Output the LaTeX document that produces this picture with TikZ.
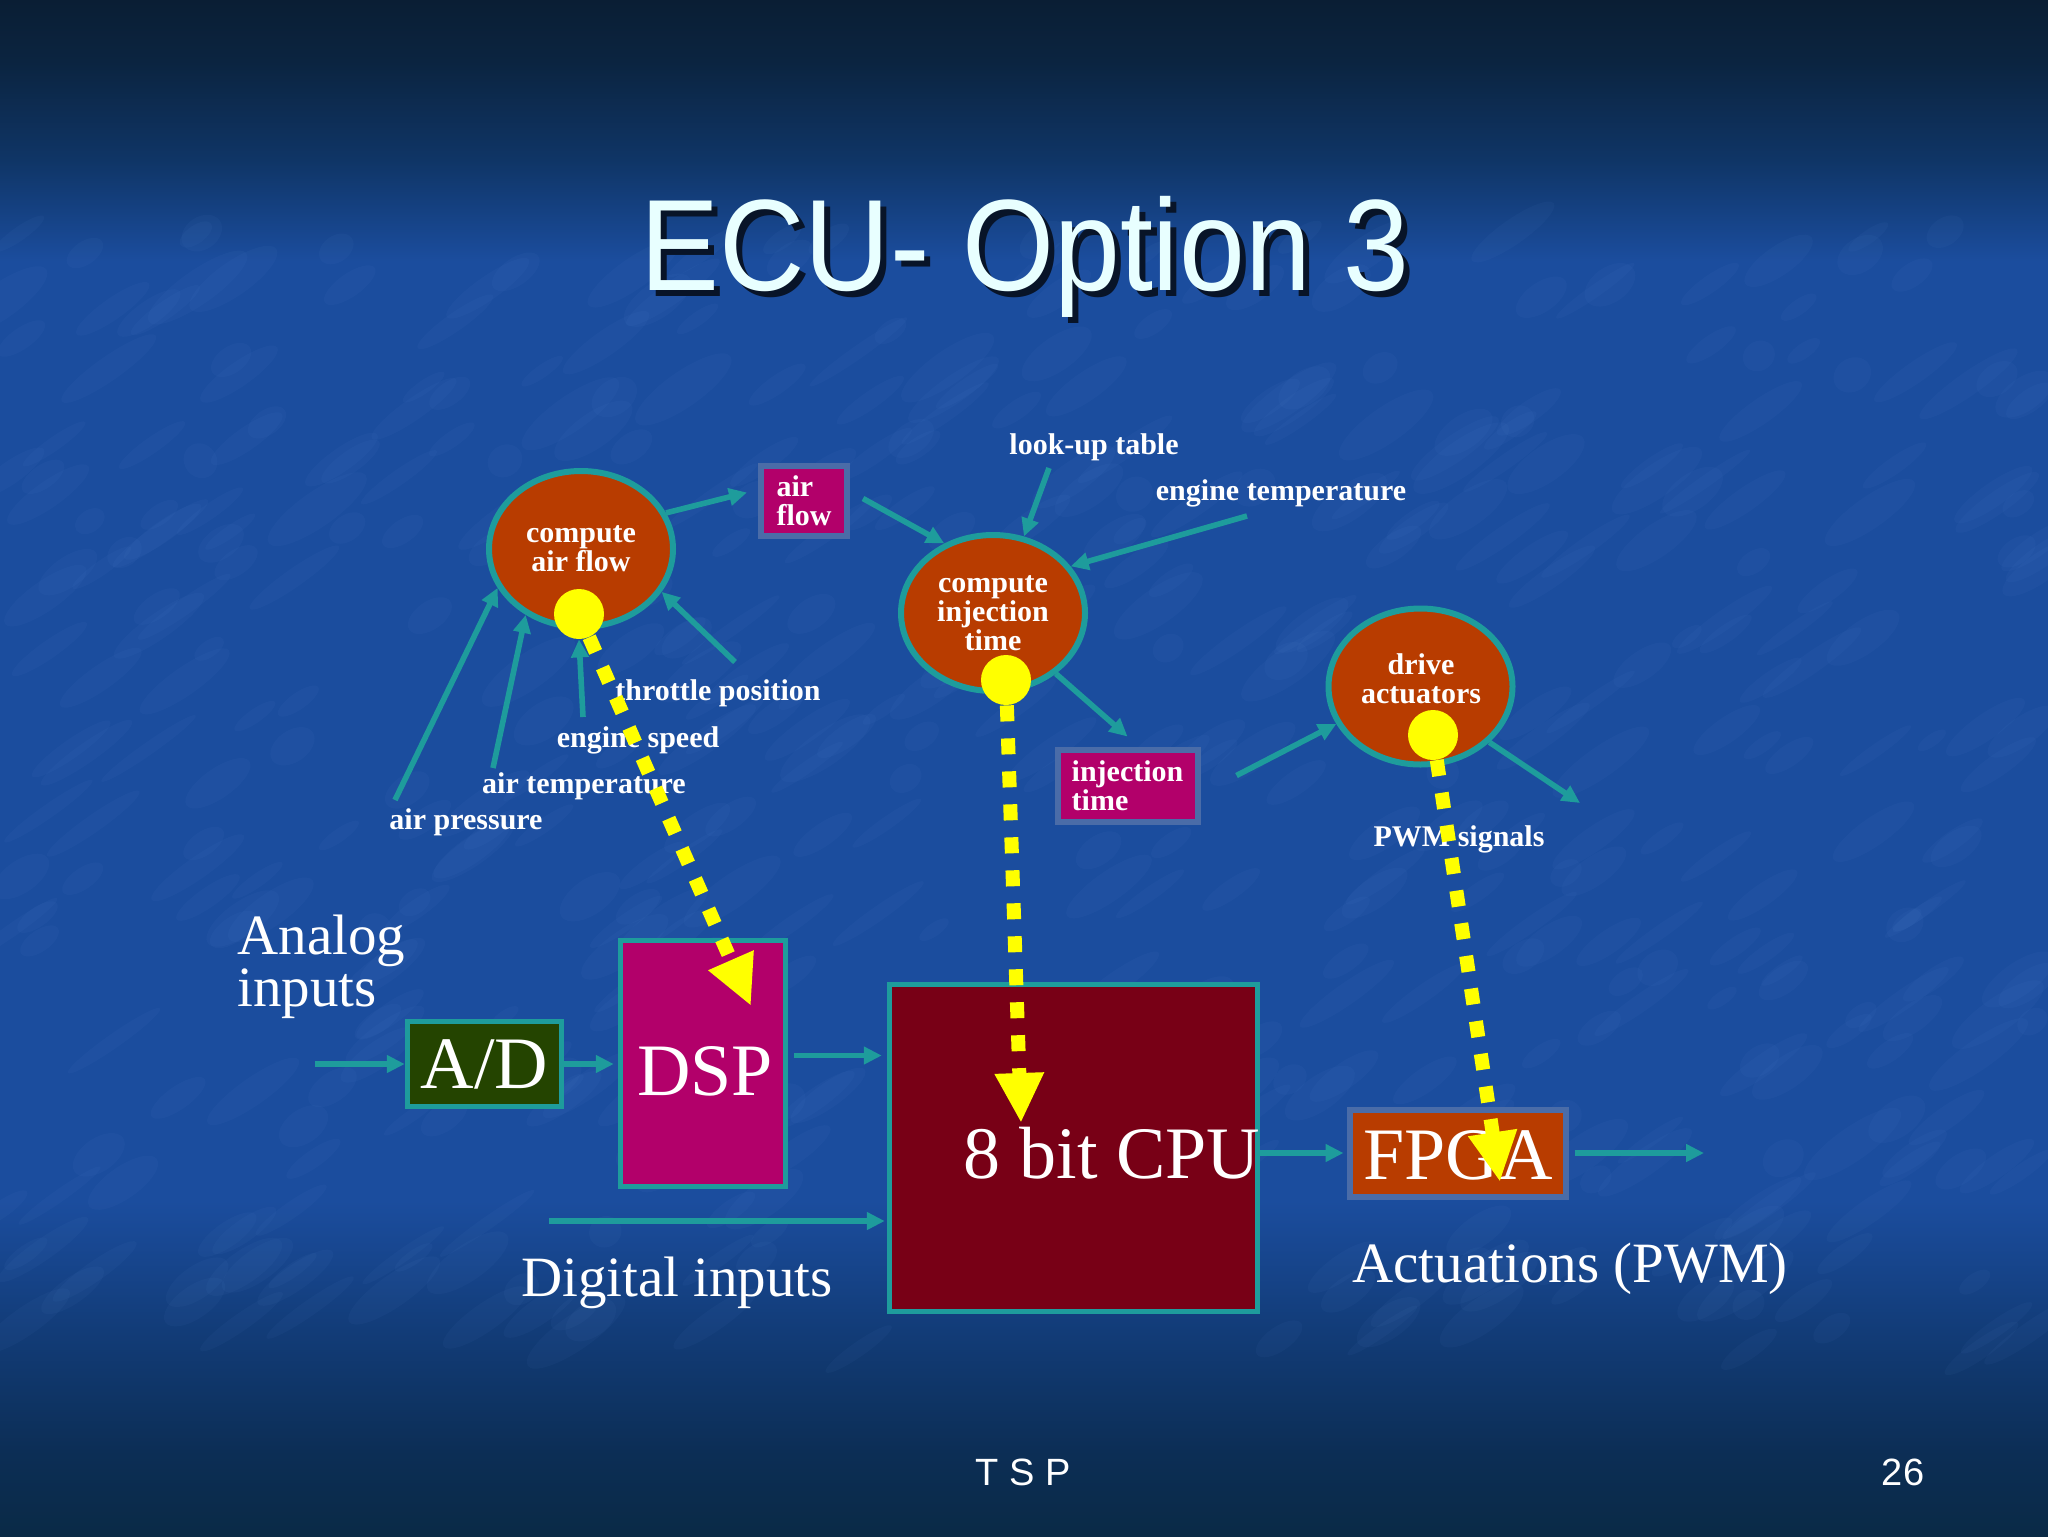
\documentclass[tikz,border=0pt]{standalone}
\usepackage{fontspec}
\setmainfont{Liberation Serif}
\setsansfont{Liberation Sans}
\usetikzlibrary{arrows.meta,shapes.geometric,calc}
\definecolor{bgA}{HTML}{0A1E34}
\definecolor{bgB}{HTML}{0B2440}
\definecolor{bgC}{HTML}{0F3566}
\definecolor{bgmid}{HTML}{1B4D9E}
\definecolor{bgD}{HTML}{123C78}
\definecolor{bgE}{HTML}{0C2E56}
\definecolor{bgF}{HTML}{0A2A46}
\definecolor{tealc}{HTML}{1E9C9C}
\definecolor{ellfill}{HTML}{B83C00}
\definecolor{magfill}{HTML}{B2006A}
\definecolor{cpufill}{HTML}{780016}
\definecolor{adfill}{HTML}{244400}
\definecolor{slate}{HTML}{4A6CA8}
\definecolor{ylw}{HTML}{FFFF00}
\definecolor{titlec}{HTML}{E8FFFF}
\definecolor{shadowc}{HTML}{081428}
\definecolor{streak}{HTML}{6A9AE0}
\pgfdeclareverticalshading{bgshade}{100bp}{color(0bp)=(bgF); color(25bp)=(bgF); color(27.8bp)=(bgE); color(31.7bp)=(bgD); color(35.9bp)=(bgmid); color(66.5bp)=(bgmid); color(69.8bp)=(bgC); color(73bp)=(bgB); color(75bp)=(bgA); color(100bp)=(bgA)}
\newcommand{\lblfont}{\fontsize{15pt}{14.5pt}\selectfont\bfseries}
\newcommand{\midfont}{\fontsize{28.5pt}{26pt}\selectfont}
\newcommand{\bigfont}{\fontsize{37pt}{37pt}\selectfont}
\begin{document}
\begin{tikzpicture}[x=0.5pt,y=-0.5pt,
  lbl/.style={text=white,font=\lblfont,inner sep=0pt,align=center},
  midtxt/.style={text=white,font=\midfont,inner sep=0pt,align=left},
  bigtxt/.style={text=white,font=\bigfont,inner sep=0pt},
  ell/.style={ellipse,draw=tealc,line width=3pt,fill=ellfill,minimum width=92pt,minimum height=78pt,inner sep=0pt,text=white,font=\lblfont,align=center},
  ydot/.style={circle,fill=ylw,minimum size=25pt,inner sep=0pt},
  tbox/.style={draw=tealc,line width=2.75pt,inner sep=0pt},
  sbox/.style={draw=slate,line width=3pt,inner sep=0pt},
  tarrow/.style={draw=tealc,line width=2.8pt,-{Triangle[length=9pt,width=8.5pt]}},
  yarrow/.style={draw=ylw,line width=7pt,dash pattern=on 8pt off 8.5pt,-{Triangle[length=25pt,width=23pt,fill=ylw]}}
]
\useasboundingbox (0,0) rectangle (2048,1536);
% background
\shade[shading=bgshade] (0,0) rectangle (2048,1536);
\pgfmathsetseed{11}
\foreach \i in {1,...,520}{
  \pgfmathsetmacro\sx{rnd*2048}
  \pgfmathsetmacro\sy{230+rnd*1120}
  \pgfmathsetmacro\sa{8+rnd*22}
  \pgfmathsetmacro\sb{3+rnd*6}
  \fill[streak,opacity=0.05,rotate around={35:(\sx,\sy)}] (\sx,\sy) ellipse [x radius=\sa pt,y radius=\sb pt];
}
% title
\node[font=\fontsize{65pt}{65pt}\selectfont\sffamily,text=shadowc,anchor=base,xscale=0.91,inner sep=0pt] (titles) at (1031,296) {ECU- Option 3};
\node[font=\fontsize{65pt}{65pt}\selectfont\sffamily,text=titlec,anchor=base,xscale=0.91,inner sep=0pt] (title) at (1025,290) {ECU- Option 3};

% ellipses
\node[ell] (caf) at (581,549) {compute\\air flow};
\node[ell] (cit) at (993,613) {compute\\injection\\time};
\node[ell] (dra) at (1420.5,686.5) {};
\node[lbl] (dratxt) at (1421,679) {drive\\actuators};
\node[ydot] (y1) at (579,614) {};
\node[ydot] (y2) at (1006,680) {};
\node[ydot] (y3) at (1433,735) {};

% small boxes
\node[sbox,fill=magfill,minimum width=43pt,minimum height=35pt,lbl,align=left] (afbox) at (804,500.5) {air\\flow};
\node[sbox,fill=magfill,minimum width=70pt,minimum height=36pt,lbl,align=left] (itbox) at (1127.5,785.5) {injection\\time};

% labels
\node[lbl,anchor=base] (ltp) at (718,700) {throttle position};
\node[lbl,anchor=base] (les) at (638,747) {engine speed};
\node[lbl,anchor=base] (lat) at (584,793) {air temperature};
\node[lbl,anchor=base] (lap) at (466,829) {air pressure};
\node[lbl,anchor=base] (llt) at (1094,454) {look-up table};
\node[lbl,anchor=base] (let) at (1281,500) {engine temperature};
\node[lbl,anchor=base] (lpwm) at (1459,846) {PWM signals};

% input arrows
\coordinate (sap) at (395,800);
\coordinate (sat) at (493,768);
\coordinate (ses) at (583,717);
\coordinate (stp) at (735,662);
\draw[tarrow] (sap) -- (caf.205);
\draw[tarrow] (sat) -- (caf.230);
\draw[tarrow] (ses) -- (y1.south);
\draw[tarrow] (stp) -- (caf.-28);
\draw[tarrow] (caf.23) -- ([xshift=-5.5pt,yshift=4pt]afbox.west);
\draw[tarrow] ([xshift=6.5pt,yshift=1pt]afbox.east) -- (cit.125);
\coordinate (slt) at (1049,468);
\coordinate (set) at (1247,516);
\draw[tarrow] (slt) -- (cit.68);
\draw[tarrow] (set) -- (cit.31);
\draw[tarrow] (cit.-44) -- ([yshift=5pt]itbox.north);
\draw[tarrow] ([xshift=18pt,yshift=5pt]itbox.east) -- (dra.204);
\coordinate (eout) at (1580,803);
\draw[tarrow] (dra.-39) -- (eout);

% lower blocks
\node[midtxt,anchor=west] (ain) at (237,967) {Analog\\inputs};
\node[tbox,fill=adfill,minimum width=77pt,minimum height=42.5pt,bigtxt] (ad) at (484.5,1064) {A/D};
\node[tbox,fill=magfill,minimum width=82.5pt,minimum height=123pt] (dsp) at (703,1063.5) {};
\node[bigtxt] (dsptxt) at (705,1071) {DSP};
\node[tbox,fill=cpufill,minimum width=184pt,minimum height=163.5pt] (cpu) at (1073.5,1148) {};
\node[bigtxt] (cputxt) at (1112,1153) {8 bit CPU};
\node[sbox,fill=ellfill,minimum width=108pt,minimum height=43.5pt] (fpga) at (1457.5,1153) {};
\node[bigtxt] (fpgatxt) at (1458,1155) {FPGA};
\node[midtxt] (din) at (677,1283) {Digital inputs};
\node[midtxt] (act) at (1570,1269) {Actuations (PWM)};

\coordinate (ain0) at (315,1064);
\draw[tarrow] (ain0) -- (ad.west);
\draw[tarrow] (ad.east) -- ([xshift=-2pt]ad.east -| dsp.west);
\draw[tarrow] ([xshift=3pt,yshift=4pt]dsp.east) -- ([xshift=-2.5pt,yshift=4pt]dsp.east -| cpu.west);
\coordinate (din0) at (549,1221);
\draw[tarrow] (din0) -- ([xshift=-1pt]din0 -| cpu.west);
\draw[tarrow] ([yshift=-2.5pt]cpu.east) -- ([xshift=-1.5pt,yshift=-2.5pt]cpu.east -| fpga.west);
\coordinate (fout) at (1704,1153);
\draw[tarrow] ([xshift=3pt]fpga.east) -- (fout);

% yellow dashed arrows
\coordinate (t1) at (751,1006);
\coordinate (t2) at (1021,1123);
\coordinate (t3) at (1500,1182);
\draw[yarrow] (y1) -- (t1);
\draw[yarrow] (y2) -- (t2);
\draw[yarrow] (y3) -- (t3);

% footer
\node[font=\fontsize{19pt}{19pt}\selectfont\sffamily,text=white,inner sep=0pt] (tsp) at (1023,1472) {T S P};
\node[font=\fontsize{19pt}{19pt}\selectfont\sffamily,text=white,inner sep=0pt] (pg) at (1903,1472) {26};
\end{tikzpicture}
\end{document}
